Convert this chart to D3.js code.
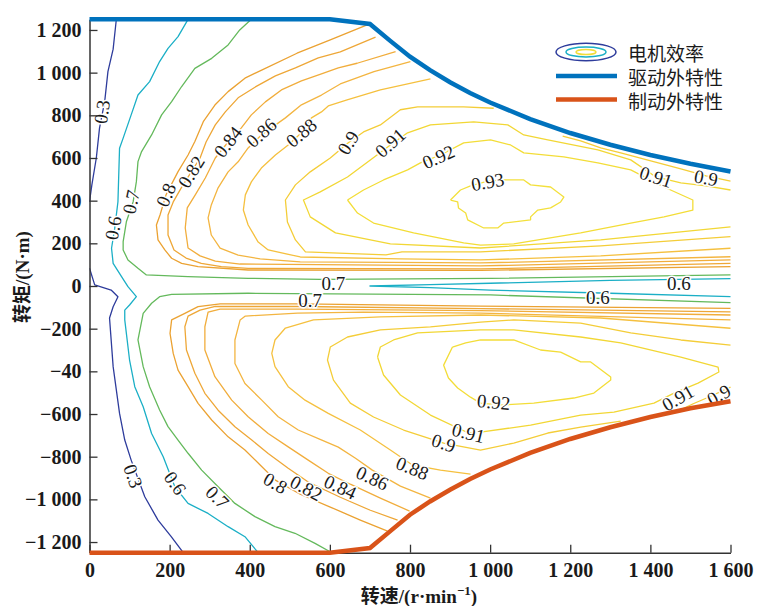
<!DOCTYPE html>
<html>
<head>
<meta charset="utf-8">
<script src="https://cdn.jsdelivr.net/npm/d3@7"></script>
<style>
  body { margin: 0; background: #fff; }
  svg { display: block; }
</style>
</head>
<body>
<div id="chart"></div>
<script>
// speed r/min, torque N·m
const xTicks = [0, 200, 400, 600, 800, 1000, 1200, 1400, 1600];
const xTickLabels = ['0', '200', '400', '600', '800', '1 000', '1 200', '1 400', '1 600'];
const yTicks = [-1200, -1000, -800, -600, -400, -200, 0, 200, 400, 600, 800, 1000, 1200];
const yTickLabels = ['\u22121 200', '\u22121 000', '\u2212800', '\u2212600', '\u221240', '\u2212200', '0', '200', '400', '600', '800', '1 000', '1 200'];

// drive / brake envelopes
const driveCurve = [[0,1250],[600,1250],[700,1228],[750,1150],[800,1075],[850,1012],[900,955],[950,905],[1000,860],[1100,782],[1200,717],[1300,662],[1400,614],[1500,573],[1600,537]];
const brakeCurve = [[0,-1250],[600,-1250],[700,-1228],[750,-1150],[800,-1072],[850,-1010],[900,-955],[950,-905],[1000,-860],[1100,-782],[1200,-717],[1300,-662],[1400,-614],[1500,-573],[1600,-540]];

// efficiency contour lines
const eff030Top = [[67,1250],[59,1110],[46,1005],[38,865],[25,740],[17,600],[6,475],[0,395]];
const eff030Bottom = [[0,84],[13,5],[54,-19],[71,-50],[59,-97],[50,-150],[59,-378],[75,-597],[88,-722],[104,-816],[138,-988],[171,-1097],[204,-1175],[234,-1250]];
const eff060 = [[246,1250],[221,1169],[196,1114],[175,1052],[150,958],[121,895],[104,802],[84,693],[75,646],[71,395],[63,271],[55,177],[59,106],[80,44],[96,-3],[117,-50],[100,-89],[88,-113],[88,-159],[100,-347],[113,-472],[134,-566],[155,-691],[184,-800],[213,-941],[246,-1019],[296,-1066],[346,-1128],[388,-1175],[421,-1250]];
const eff060Wedge = [[1600,35],[1300,26],[1000,13],[850,6],[700,0],[850,-8],[1000,-19],[1300,-34],[1600,-50]];
const eff070Top = [[404,1250],[375,1200],[346,1130],[305,1067],[263,1020],[230,935],[205,864],[180,802],[155,708],[130,630],[121,583],[117,489],[109,395],[92,301],[84,208],[84,169],[96,122],[121,83],[142,52],[246,44],[396,36],[576,31],[1001,36],[1600,52]];
const eff070Bottom = [[1600,-78],[1001,-42],[396,-34],[205,-39],[175,-50],[155,-81],[134,-128],[121,-253],[134,-378],[150,-472],[175,-581],[196,-659],[221,-722],[246,-784],[280,-863],[321,-941],[363,-1019],[413,-1081],[463,-1128],[513,-1159],[563,-1206],[605,-1250]];

const eff080Top = [[693,1224],[601,1154],[518,1091],[431,1013],[388,974],[346,911],[313,848],[284,770],[263,677],[246,614],[221,536],[191,427],[176,333],[167,286],[171,216],[188,169],[205,130],[230,106],[271,91],[396,75],[976,73],[1600,91]];
const eff082Top = [[714,1166],[626,1097],[571,1069],[514,1022],[464,985],[414,933],[371,882],[339,816],[314,755],[291,675],[276,600],[254,535],[229,460],[209,394],[196,333],[196,239],[211,169],[241,131],[279,106],[329,91],[396,83],[976,80],[1600,106]];
const eff084Top = [[764,1099],[668,1044],[621,1022],[579,994],[529,961],[479,919],[439,863],[404,802],[379,741],[346,675],[314,600],[289,506],[264,427],[244,366],[239,272],[246,178],[276,141],[314,117],[376,103],[976,94],[1600,122]];
const eff086Top = [[801,1052],[710,1005],[626,947],[579,895],[529,849],[489,788],[454,741],[429,708],[396,647],[371,582],[346,535],[321,460],[304,380],[296,319],[304,239],[326,178],[371,145],[426,127],[526,113],[976,108],[1600,137]];
const eff088Top = [[851,971],[726,919],[643,872],[596,844],[579,816],[554,788],[529,718],[496,661],[464,614],[429,553],[404,488],[389,427],[384,356],[396,286],[421,206],[446,169],[526,136],[776,127],[976,122],[1276,141],[1600,177]];
const eff090Top = [[1009,833],[934,840],[819,840],[776,826],[726,755],[684,722],[646,671],[601,600],[551,535],[514,474],[489,403],[494,300],[514,216],[539,160],[740,146],[780,160],[976,160],[1276,188],[1600,231]];
const eff090TopRight = [[1181,703],[1226,680],[1276,647],[1326,624],[1401,586],[1476,549],[1539,516],[1600,492]];
const eff091Top = [[1600,450],[1539,469],[1476,483],[1414,511],[1351,591],[1269,638],[1144,685],[1084,708],[1044,755],[959,769],[851,755],[794,718],[751,661],[701,591],[644,511],[576,441],[534,403],[551,324],[614,249],[751,197],[976,178],[1276,216],[1600,277]];
const eff092Top = [[644,403],[684,450],[734,497],[794,544],[826,577],[876,614],[934,671],[1001,685],[1051,661],[1084,624],[1184,605],[1269,577],[1351,544],[1434,464],[1506,403],[1506,356],[1434,324],[1351,295],[1226,249],[1059,197],[976,192],[934,202],[809,249],[709,295],[669,342],[644,403]];
const eff093Top = [[901,403],[926,450],[951,469],[994,492],[1034,497],[1084,497],[1101,474],[1151,464],[1184,417],[1176,394],[1151,366],[1119,356],[1101,324],[1101,310],[1034,295],[1019,272],[984,272],[944,310],[939,342],[921,366],[919,394],[901,403]];

const eff080Bottom = [[1600,-105],[976,-94],[526,-84],[326,-84],[271,-97],[238,-128],[205,-159],[201,-222],[209,-316],[221,-394],[246,-472],[271,-550],[305,-628],[346,-707],[388,-769],[426,-839],[464,-910],[526,-976],[601,-1036],[676,-1097],[744,-1149]];
const eff082Bottom = [[1600,-121],[976,-106],[526,-96],[314,-96],[276,-113],[246,-141],[238,-191],[242,-300],[263,-409],[288,-503],[321,-582],[363,-660],[405,-722],[446,-785],[496,-854],[546,-919],[626,-990],[701,-1051],[769,-1097]];
const eff084Bottom = [[1600,-136],[976,-115],[526,-108],[326,-108],[296,-122],[288,-191],[288,-300],[313,-425],[355,-535],[396,-613],[446,-691],[496,-754],[546,-816],[596,-878],[651,-929],[726,-994],[799,-1055]];
const eff086Bottom = [[1600,-159],[976,-127],[684,-122],[519,-127],[389,-141],[376,-159],[363,-253],[363,-363],[388,-457],[430,-535],[471,-613],[521,-675],[580,-722],[621,-755],[664,-807],[706,-863],[776,-938],[851,-994]];
const eff088Bottom = [[1600,-198],[1276,-150],[976,-136],[726,-145],[559,-159],[489,-197],[463,-253],[455,-316],[463,-378],[496,-472],[538,-535],[596,-597],[676,-675],[751,-769],[806,-839],[876,-863],[951,-882]];
const eff090Bottom = [[1600,-277],[1476,-253],[1351,-220],[1226,-174],[1059,-159],[976,-169],[851,-192],[726,-206],[644,-239],[601,-286],[594,-347],[609,-441],[651,-549],[709,-614],[784,-675],[884,-736],[976,-769],[1059,-736],[1144,-689],[1226,-661],[1326,-633]];
const eff090BottomRight = [[1470,-585],[1507,-552],[1549,-518],[1600,-474]];
const eff091Bottom = [[719,-333],[734,-417],[776,-511],[851,-605],[946,-689],[976,-685],[1101,-652],[1226,-605],[1309,-591],[1409,-549],[1459,-502],[1519,-455],[1571,-403],[1569,-380],[1476,-333],[1326,-267],[1226,-239],[1059,-206],[976,-206],[819,-220],[759,-253],[726,-286],[719,-333]];
const eff092Bottom = [[906,-286],[884,-371],[896,-431],[919,-478],[951,-521],[976,-549],[1026,-558],[1109,-549],[1209,-525],[1259,-502],[1301,-441],[1301,-427],[1251,-356],[1226,-356],[1176,-310],[1126,-300],[1059,-253],[976,-253],[939,-267],[906,-286]];

const levels = [0.3, 0.6, 0.7, 0.8, 0.82, 0.84, 0.86, 0.88, 0.9, 0.91, 0.92, 0.93];
const levelColors = ['#2e3c9c', '#1bafc6', '#64b95c', '#eba232', '#eea737', '#f1ad3c', '#f3b541', '#f5c03f', '#f4cd38', '#f2d735', '#f3dd38', '#f3e03c'];

const contourPieces = [
  [0.3, eff030Top], [0.3, eff030Bottom],
  [0.6, eff060], [0.6, eff060Wedge],
  [0.7, eff070Top], [0.7, eff070Bottom],
  [0.8, eff080Top], [0.8, eff080Bottom],
  [0.82, eff082Top], [0.82, eff082Bottom],
  [0.84, eff084Top], [0.84, eff084Bottom],
  [0.86, eff086Top], [0.86, eff086Bottom],
  [0.88, eff088Top], [0.88, eff088Bottom],
  [0.9, eff090Top], [0.9, eff090TopRight], [0.9, eff090Bottom], [0.9, eff090BottomRight],
  [0.91, eff091Top], [0.91, eff091Bottom],
  [0.92, eff092Top], [0.92, eff092Bottom],
  [0.93, eff093Top]
];

// contour labels: text, speed, torque, angle
const contourLabels = [
  ['0.3', 31, 816, -82], ['0.6', 59, 272, -80], ['0.7', 104, 394, -78],
  ['0.8', 191, 427, -68], ['0.82', 254, 535, -58], ['0.84', 346, 675, -52],
  ['0.86', 429, 718, -42], ['0.88', 529, 718, -40], ['0.9', 646, 671, -58],
  ['0.91', 751, 671, -42], ['0.92', 871, 605, -24], ['0.93', 994, 488, -10],
  ['0.91', 1414, 511, 18], ['0.9', 1539, 507, 10],
  ['0.7', 609, 14, 0], ['0.7', 551, -70, 0], ['0.6', 1471, 14, 0], ['0.6', 1269, -52, 0],
  ['0.3', 109, -891, 70], ['0.6', 214, -924, 55], ['0.7', 319, -990, 45],
  ['0.8', 464, -924, 30], ['0.82', 541, -947, 28], ['0.84', 626, -943, 25],
  ['0.86', 706, -900, 25], ['0.88', 806, -854, 22], ['0.9', 884, -736, 18],
  ['0.91', 946, -689, 14], ['0.92', 1009, -544, 5],
  ['0.91', 1469, -525, -30], ['0.9', 1571, -511, -30]
];

const legendNames = ['电机效率', '驱动外特性', '制动外特性'];

const width = 760, height = 606;
const serif = '"Liberation Serif", "Times New Roman", "Noto Sans CJK SC", serif';

const svg = d3.select('#chart').append('svg')
  .attr('width', width)
  .attr('height', height);

const x = d3.scaleLinear([0, 1600], [89.5, 730.5]);
const y = d3.scaleLinear([-1250, 1250], [552.7, 19.3]);

const line = d3.line()
  .x(d => x(d[0]))
  .y(d => y(d[1]));

// clip
svg.append('clipPath').attr('id', 'plot-clip')
  .append('rect')
  .attr('x', x(0)).attr('y', y(1250) - 4)
  .attr('width', x(1600) - x(0) + 2)
  .attr('height', y(-1250) - y(1250) + 8);

const colorOf = v => levelColors[levels.indexOf(v)];

// contour lines
svg.append('g')
  .attr('clip-path', 'url(#plot-clip)')
  .selectAll('path.contour')
  .data(contourPieces)
  .join('path')
  .classed('contour', true)
  .attr('d', d => line(d[1]))
  .attr('fill', 'none')
  .attr('stroke', d => colorOf(d[0]))
  .attr('stroke-width', 1.3)
  .attr('stroke-linejoin', 'round');

// contour labels
svg.append('g')
  .selectAll('text')
  .data(contourLabels)
  .join('text')
  .attr('transform', d => `translate(${x(d[1])},${y(d[2])}) rotate(${d[3]})`)
  .attr('text-anchor', 'middle')
  .attr('dominant-baseline', 'central')
  .style('font-family', serif)
  .style('font-size', '19px')
  .attr('fill', '#1a1a1a')
  .attr('stroke', '#fff')
  .attr('stroke-width', 3)
  .attr('paint-order', 'stroke')
  .text(d => d[0]);

// axes
const yAxis = d3.axisLeft(y)
  .tickValues(yTicks)
  .tickFormat((d, i) => yTickLabels[i])
  .tickSizeInner(-8)
  .tickSizeOuter(0)
  .tickPadding(8);
const xAxis = d3.axisBottom(x)
  .tickValues(xTicks)
  .tickFormat((d, i) => xTickLabels[i])
  .tickSizeInner(-8)
  .tickSizeOuter(0)
  .tickPadding(10);

const gy = svg.append('g').attr('transform', `translate(${x(0)},0)`).call(yAxis);
const gx = svg.append('g').attr('transform', `translate(0,${y(-1250)})`).call(xAxis);
[gx, gy].forEach(g => {
  g.select('.domain').attr('stroke', '#333').attr('stroke-width', 1.5);
  g.selectAll('.tick line').attr('stroke', '#333').attr('stroke-width', 1.3);
  g.selectAll('.tick text')
    .attr('fill', '#1a1a1a')
    .style('font-family', serif)
    .style('font-weight', 'bold')
    .style('font-size', '20px');
});

// envelopes on top
svg.append('path')
  .attr('d', line(driveCurve))
  .attr('fill', 'none')
  .attr('stroke', '#0072BD')
  .attr('stroke-width', 4.5);
svg.append('path')
  .attr('d', line(brakeCurve))
  .attr('fill', 'none')
  .attr('stroke', '#D95319')
  .attr('stroke-width', 4.5);

// axis titles
svg.append('text')
  .attr('transform', 'translate(22,277) rotate(-90)')
  .attr('text-anchor', 'middle')
  .attr('dominant-baseline', 'central')
  .style('font-family', serif)
  .style('font-weight', 'bold')
  .style('font-size', '19px')
  .attr('fill', '#1a1a1a')
  .text('转矩/(N·m)');

const xt = svg.append('text')
  .attr('x', 419)
  .attr('y', 603)
  .attr('text-anchor', 'middle')
  .style('font-family', serif)
  .style('font-weight', 'bold')
  .style('font-size', '19px')
  .attr('fill', '#1a1a1a');
xt.append('tspan').text('转速/(r·min');
xt.append('tspan').attr('dy', -8).style('font-size', '13px').text('\u22121');
xt.append('tspan').attr('dy', 8).text(')');

// legend
const lg = svg.append('g').attr('transform', 'translate(556,0)');
const ell = lg.append('g').attr('transform', 'translate(30,52)');
[[30, 8.7, levelColors[0]], [20, 5, levelColors[1]], [10, 2.6, levelColors[10]]].forEach(e => {
  ell.append('ellipse')
    .attr('rx', e[0]).attr('ry', e[1])
    .attr('fill', 'none')
    .attr('stroke', e[2])
    .attr('stroke-width', 1.5);
});
lg.append('line').attr('x1', 0).attr('x2', 61).attr('y1', 76).attr('y2', 76)
  .attr('stroke', '#0072BD').attr('stroke-width', 4.5);
lg.append('line').attr('x1', 0).attr('x2', 61).attr('y1', 99.5).attr('y2', 99.5)
  .attr('stroke', '#D95319').attr('stroke-width', 4.5);
lg.selectAll('text.lg')
  .data(legendNames)
  .join('text')
  .classed('lg', true)
  .attr('x', 72)
  .attr('y', (d, i) => 52 + i * 24)
  .attr('dominant-baseline', 'central')
  .style('font-family', '"Noto Sans CJK SC", sans-serif')
  .style('font-size', '19px')
  .attr('fill', '#1a1a1a')
  .text(d => d);
</script>
</body>
</html>
